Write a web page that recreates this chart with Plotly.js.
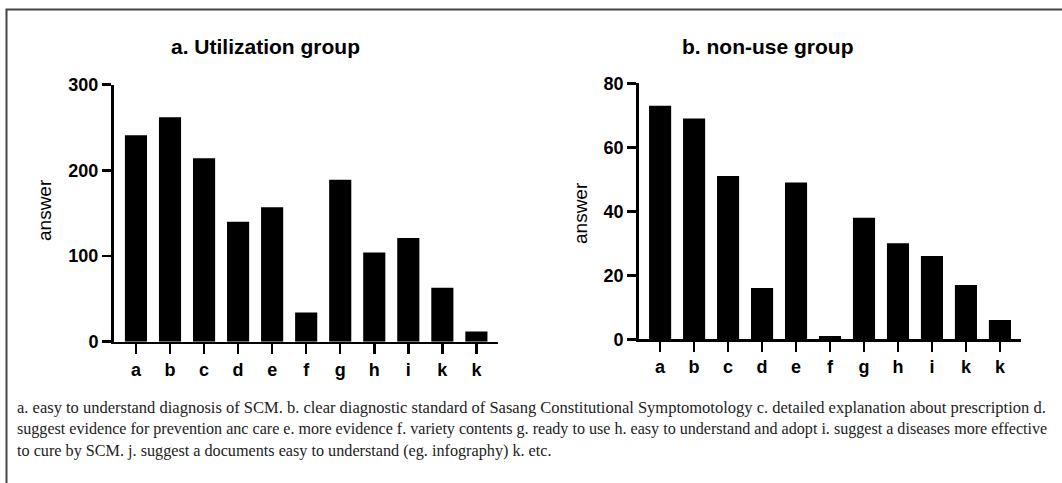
<!DOCTYPE html>
<html>
<head>
<meta charset="utf-8">
<script src="https://cdn.plot.ly/plotly-3.0.1.min.js"></script>
<style>
  html, body { margin: 0; padding: 0; background: #fff; }
  #chart { width: 1062px; height: 483px; }
</style>
</head>
<body>
<div id="chart"></div>
<script>
// ---- data ----
const categories = ['a', 'b', 'c', 'd', 'e', 'f', 'g', 'h', 'i', 'k', 'k'];
const utilizationValues = [241, 262, 214, 140, 157, 34, 189, 104, 121, 63, 12];
const nonUseValues = [73, 69, 51, 16, 49, 1, 38, 30, 26, 17, 6];
const panelTitles = ['a. Utilization group', 'b. non-use group'];
const yAxisTitle = 'answer';
const captionLines = [
  'a. easy to understand diagnosis of SCM. b. clear diagnostic standard of Sasang Constitutional Symptomotology c. detailed explanation about prescription d.',
  'suggest evidence for prevention anc care e. more evidence f. variety contents g. ready to use h. easy to understand and adopt i. suggest a diseases more effective',
  'to cure by SCM. j. suggest a documents easy to understand (eg. infography) k. etc.'
];

// ---- layout helpers ----
const W = 1062, H = 483;
const px = x => x / W;
const py = y => 1 - y / H;
const idx = categories.map((_, i) => i);

const sans = 'Liberation Sans, Arial, sans-serif';
const serif = 'Liberation Serif, Times New Roman, serif';

const traces = [
  { type: 'bar', x: idx, y: utilizationValues, xaxis: 'x', yaxis: 'y',
    marker: { color: '#000', line: { width: 0 } }, hoverinfo: 'y' },
  { type: 'bar', x: idx, y: nonUseValues, xaxis: 'x2', yaxis: 'y2',
    marker: { color: '#000', line: { width: 0 } }, hoverinfo: 'y' }
];

const xCommon = {
  tickmode: 'array', tickvals: idx, ticktext: categories,
  showline: true, linewidth: 2.5, linecolor: '#000',
  ticks: 'outside', ticklen: 10, tickwidth: 2.5, tickcolor: '#000',
  showgrid: false, zeroline: false, fixedrange: true,
  tickfont: { family: sans, size: 18, color: '#000', weight: 'bold' }
};
const yCommon = {
  showline: true, linewidth: 2.5, linecolor: '#000',
  ticks: 'outside', ticklen: 9, tickwidth: 2.5, tickcolor: '#000',
  showgrid: false, zeroline: false, fixedrange: true,
  tickfont: { family: sans, size: 18, color: '#000', weight: 'bold' }
};

const annotations = [
  { text: '<b>' + panelTitles[0] + '</b>', x: px(265), y: py(46), xref: 'paper', yref: 'paper',
    showarrow: false, xanchor: 'center', yanchor: 'middle', font: { family: sans, size: 21, color: '#000' } },
  { text: '<b>' + panelTitles[1] + '</b>', x: px(767), y: py(46), xref: 'paper', yref: 'paper',
    showarrow: false, xanchor: 'center', yanchor: 'middle', font: { family: sans, size: 21, color: '#000' } },
  { text: yAxisTitle, x: px(45), y: py(210), xref: 'paper', yref: 'paper', textangle: -90,
    showarrow: false, xanchor: 'center', yanchor: 'middle', font: { family: sans, size: 19, color: '#000' } },
  { text: yAxisTitle, x: px(580), y: py(213), xref: 'paper', yref: 'paper', textangle: -90,
    showarrow: false, xanchor: 'center', yanchor: 'middle', font: { family: sans, size: 19, color: '#000' } }
];
const captionY = [407, 429, 451];
const captionSize = [16.5, 16.1, 16.2];
captionLines.forEach((line, i) => {
  annotations.push({ text: line, x: px(15), y: py(captionY[i]), xref: 'paper', yref: 'paper',
    showarrow: false, xanchor: 'left', yanchor: 'middle', align: 'left',
    font: { family: serif, size: captionSize[i], color: '#222' } });
});

const layout = {
  width: W, height: H,
  margin: { l: 0, r: 0, t: 0, b: 0, pad: 0 },
  paper_bgcolor: '#fff', plot_bgcolor: '#fff',
  showlegend: false, bargap: 0.35,
  xaxis: Object.assign({}, xCommon, { domain: [px(113.5), px(497.5)], range: [-0.66, 10.62], anchor: 'y' }),
  yaxis: Object.assign({}, yCommon, { domain: [py(341.7), py(84.7)], range: [0, 300], tickvals: [0, 100, 200, 300], anchor: 'x' }),
  xaxis2: Object.assign({}, xCommon, { domain: [px(638.7), px(1021)], range: [-0.63, 10.62], anchor: 'y2' }),
  yaxis2: Object.assign({}, yCommon, { domain: [py(339.3), py(83.3)], range: [0, 80], tickvals: [0, 20, 40, 60, 80], anchor: 'x2' }),
  annotations: annotations,
  shapes: [
    { type: 'rect', xref: 'paper', yref: 'paper', x0: px(6.5), x1: 1.02, y0: -0.03, y1: py(9.5),
      line: { color: '#444', width: 2 }, fillcolor: 'rgba(0,0,0,0)' }
  ]
};

Plotly.newPlot('chart', traces, layout, { displayModeBar: false, staticPlot: true });
</script>
</body>
</html>
